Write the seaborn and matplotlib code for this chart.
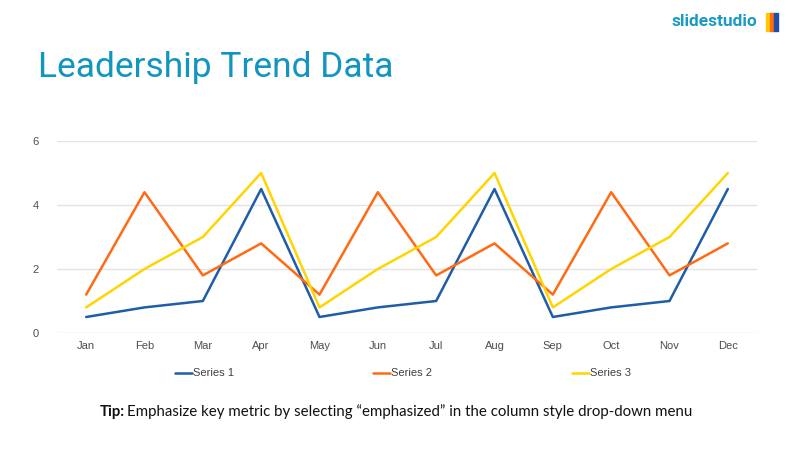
import matplotlib
matplotlib.use("Agg")
import matplotlib.pyplot as plt
import seaborn as sns
import pandas as pd
from matplotlib.patches import Rectangle

months = ["Jan", "Feb", "Mar", "Apr", "May", "Jun", "Jul", "Aug", "Sep", "Oct", "Nov", "Dec"]
series1 = [0.5, 0.8, 1.0, 4.5, 0.5, 0.8, 1.0, 4.5, 0.5, 0.8, 1.0, 4.5]
series2 = [1.2, 4.4, 1.8, 2.8, 1.2, 4.4, 1.8, 2.8, 1.2, 4.4, 1.8, 2.8]
series3 = [0.8, 2.0, 3.0, 5.0, 0.8, 2.0, 3.0, 5.0, 0.8, 2.0, 3.0, 5.0]
series_names = ["Series 1", "Series 2", "Series 3"]
colors = ["#1F5DA8", "#FF6A13", "#FFD500"]
yticks = [0, 2, 4, 6]

sns.set_theme(style="white")
plt.rcParams['font.family'] = ['Liberation Sans', 'DejaVu Sans']

rows = []
for name, vals in zip(series_names, [series1, series2, series3]):
    for i, (m, v) in enumerate(zip(months, vals)):
        rows.append({"idx": i, "month": m, "value": v, "series": name})
df = pd.DataFrame(rows)

fig = plt.figure(figsize=(8, 4.5), dpi=100)
fig.patch.set_facecolor("white")
ax = fig.add_axes([57/800, 1-333/450, 700/800, (333-141)/450])

sns.lineplot(data=df, x="idx", y="value", hue="series", palette=colors,
             linewidth=1.8, ax=ax, legend=False, sort=False)

ax.set_xlim(-0.5, 11.5)
ax.set_ylim(0, 6)
ax.set_yticks(yticks)
ax.set_yticklabels([str(t) for t in yticks])
ax.set_xticks(range(len(months)))
ax.set_xticklabels(months)
ax.tick_params(axis="both", length=0, labelsize=8, labelcolor="#4D4D4D")
ax.tick_params(axis="y", pad=13)
ax.tick_params(axis="x", pad=6)
ax.grid(axis="y", color="#E3E3E3", linewidth=1)
ax.set_axisbelow(True)
for s in ax.spines.values():
    s.set_visible(False)
ax.set_xlabel("")
ax.set_ylabel("")

# legend
legend_x = [175, 373, 572]
for lx, name, c in zip(legend_x, series_names, colors):
    fig.add_artist(plt.Line2D([lx/800, (lx+17)/800], [1-373/450, 1-373/450], color=c, linewidth=1.8,
                              transform=fig.transFigure))
    fig.text((lx+18)/800, 1-373/450, name, fontsize=8, color="#404040", va="center", ha="left")

# title
fig.text(38/800, 1-68/450, "Leadership Trend Data", fontsize=25.5, color="#1295C0",
         family=["Roboto", "DejaVu Sans"], va="center", ha="left")

# logo
fig.text(672/800, 1-22/450, "slidestudio", fontsize=12.5, color="#1A9AC4", fontweight="bold",
         family=["Roboto", "DejaVu Sans"], va="center", ha="left")
for dx, c in zip([0, 4, 8], ["#FFC800", "#FF6A13", "#1F4FA0"]):
    fig.add_artist(Rectangle(((766+dx)/800, 1-31/450), 4/800, 18/450, color=c,
                             transform=fig.transFigure))

# tip
fig.text(100/800, 1-412/450, "Tip:", fontsize=10.8, fontweight="bold", color="#111111",
         family=["Lato", "DejaVu Sans"], va="center", ha="left")
fig.text(127/800, 1-412/450, "Emphasize key metric by selecting \u201cemphasized\u201d in the column style drop-down menu",
         fontsize=10.8, color="#111111", family=["Lato", "DejaVu Sans"], va="center", ha="left")

fig.savefig("out.png", dpi=100, facecolor="white")
